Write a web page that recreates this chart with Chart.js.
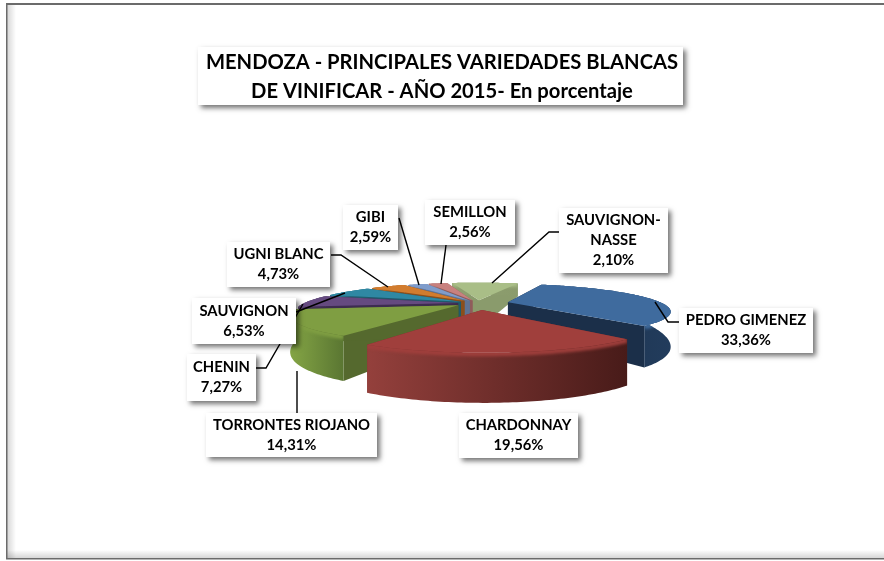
<!DOCTYPE html>
<html><head><meta charset="utf-8">
<script src="https://cdn.jsdelivr.net/npm/chart.js@4"></script>
<style>html,body{margin:0;padding:0;background:#fff}#w{width:884px;height:561px}</style>
</head><body><div id="w"><canvas id="c" width="884" height="561"></canvas></div>
<script>
// ---- data ----
const categories = ['PEDRO GIMENEZ','CHARDONNAY','TORRONTES RIOJANO','CHENIN','SAUVIGNON','UGNI BLANC','GIBI','SEMILLON','SAUVIGNON-NASSE'];
const printedPercent = ['33,36%','19,56%','14,31%','7,27%','6,53%','4,73%','2,59%','2,56%','2,10%'];
// slice sizes as drawn: the last slice is visibly larger than its printed 2,10%
const sliceValues = [33.36,19.56,14.31,7.27,6.53,4.73,2.59,2.56,9.09];
const explode = [20,26,15,13,13,14,12,12,12];
const titleLines = ['MENDOZA - PRINCIPALES VARIEDADES BLANCAS','DE VINIFICAR - AÑO 2015- En porcentaje'];

// ---- styling / layout ----
const topColors  = ['#3F6B9E','#A03F3C','#7F9E42','#654A80','#2F88A3','#D27C2E','#7F9CCB','#C8817F','#A9BE87'];
const wallColors = ['#1B2F49','#7A2E2C','#55692E','#3D2C50','#1F5A6C','#8A4F1C','#5F7394','#8F5C5B','#8A9B6C'];
const sideFrom   = ['#1B304B','#94403C','#84A545','#4A365E','#246A80','#9A5A20','#64789A','#96615F','#8F9F70'];
const sideTo     = ['#223C5C','#481B19','#5A7632','#3D2C50','#1F5A6C','#8A4F1C','#5F7394','#8F5C5B','#8A9B6C'];
const boxes = [[679,308,134,45],[459,413,119,45],[206,413,171,44],[187,354,69,47],[192,298,104,46],[227,242,103,45],[343,205,55,45],[425,200,90,45],[559,208,109,65]];
const leaders = [
 [[679,322],[668,322],[655,302]],
 [],
 [[297,413],[297,371]],
 [[256,368],[266,368],[303,304]],
 [[296,312],[345,293]],
 [[331,255],[341,255],[388,287]],
 [[399,218],[419,285]],
 [[446,245],[441,284]],
 [[559,232],[549,232],[492,283]]
];
const P = {shiftX:36, rx:154, ry:24.5, persp:0.30, depth:30, depthGrow:16};
const FONT = 'Lato, "Open Sans", sans-serif';

function proj(cx,cy,u,v){const s=1/(1-P.persp*v);return {x:cx+P.shiftX+P.rx*u*s,y:cy+P.ry*v*s,d:P.depth+P.depthGrow*v};}
function poly(ctx,pts){ctx.beginPath();pts.forEach((p,i)=>i?ctx.lineTo(p.x,p.y):ctx.moveTo(p.x,p.y));ctx.closePath();}
function shadowBox(ctx,x,y,w,h){
  ctx.save();ctx.shadowColor='rgba(0,0,0,0.55)';ctx.shadowBlur=5;ctx.shadowOffsetX=3;ctx.shadowOffsetY=3;
  ctx.fillStyle='#fff';ctx.fillRect(x,y,w,h);ctx.restore();
}
const frame = {id:'frame',beforeDraw(chart){
  const c=chart.ctx;c.save();c.fillStyle='#fff';c.fillRect(0,0,884,561);
  let g=c.createLinearGradient(7,0,16,0);g.addColorStop(0,'rgba(0,0,0,0.16)');g.addColorStop(1,'rgba(0,0,0,0)');
  c.fillStyle=g;c.fillRect(7,5,9,553);
  g=c.createLinearGradient(0,550,0,558);g.addColorStop(0,'rgba(0,0,0,0)');g.addColorStop(1,'rgba(0,0,0,0.16)');
  c.fillStyle=g;c.fillRect(7,550,877,8);
  c.fillStyle='#6b6b6b';c.fillRect(6,3,878,2);c.fillRect(6,3,1.5,556);c.fillRect(6,558,878,1.5);
  shadowBox(c,198,47,485,58);
  c.restore();
}};
const pie3d = {id:'pie3d',beforeDatasetsDraw(chart){
  const ctx=chart.ctx, meta=chart.getDatasetMeta(0);
  const order=meta.data.map((el,i)=>{const m=(el.startAngle+el.endAngle)/2;return {el,i,m,k:Math.sin(m)};}).sort((a,b)=>a.k-b.k);
  ctx.save();
  for(const o of order){
    const {el,i,m}=o, off=el.options.offset/100;
    const ax=off*Math.cos(m), ay=off*Math.sin(m);
    const pt=(u,v)=>proj(el.x,el.y,ax+u,ay+v);
    const apex=pt(0,0), rim=[];
    const n=Math.max(4,Math.ceil((el.endAngle-el.startAngle)/(Math.PI/180)));
    for(let j=0;j<=n;j++){const a=el.startAngle+(el.endAngle-el.startAngle)*j/n;rim.push(pt(Math.cos(a),Math.sin(a)));}
    const down=p=>({x:p.x,y:p.y+p.d});
    ctx.fillStyle=wallColors[i];
    for(const e of [rim[0],rim[n]]){poly(ctx,[apex,e,down(e),down(apex)]);ctx.fill();}
    const xs=rim.map(p=>p.x),x0=Math.min(...xs),x1=Math.max(...xs);
    const g=ctx.createLinearGradient(x0,0,x1,0);g.addColorStop(0,sideFrom[i]);g.addColorStop(1,sideTo[i]);
    const wall=rim.concat(rim.slice().reverse().map(down));
    ctx.fillStyle=g;poly(ctx,wall);ctx.fill();
    ctx.save();poly(ctx,wall);ctx.clip();ctx.filter='blur(1.5px)';ctx.strokeStyle=topColors[i];ctx.lineWidth=5;ctx.beginPath();
    rim.forEach((p,j)=>j?ctx.lineTo(p.x,p.y+1):ctx.moveTo(p.x,p.y+1));ctx.stroke();ctx.restore();
    ctx.fillStyle=el.options.backgroundColor;poly(ctx,[apex].concat(rim));ctx.fill();
  }
  ctx.restore();
  return false;
},afterDraw(chart){
  const c=chart.ctx;c.save();
  c.strokeStyle='#000';c.lineWidth=1.4;
  leaders.forEach(l=>{if(!l.length)return;c.beginPath();l.forEach((p,j)=>j?c.lineTo(p[0],p[1]):c.moveTo(p[0],p[1]));c.stroke();});
  categories.forEach((name,i)=>{
    const [x,y,w,h]=boxes[i];shadowBox(c,x,y,w,h);
    const lines=(name==='SAUVIGNON-NASSE'?['SAUVIGNON-','NASSE']:[name]).concat(printedPercent[i]);
    c.fillStyle='#000';c.font='bold 14.8px '+FONT;c.textAlign='center';c.textBaseline='middle';
    const lh=20, top=y+h/2-lh*(lines.length-1)/2;
    lines.forEach((t,j)=>c.fillText(t,x+w/2,top+j*lh));
  });
  c.restore();
}};
new Chart(document.getElementById('c'),{
  type:'pie',
  data:{labels:categories,datasets:[{data:sliceValues,backgroundColor:topColors,offset:explode,borderWidth:0}]},
  options:{responsive:false,animation:false,rotation:19.5,
    layout:{padding:{bottom:70}},
    plugins:{legend:{display:false},tooltip:{enabled:false},
      title:{display:true,text:titleLines,color:'#000',font:{family:FONT,size:20.2,weight:'bold',lineHeight:1.42},padding:{top:48,bottom:10}}}},
  plugins:[frame,pie3d]
});
</script></body></html>
